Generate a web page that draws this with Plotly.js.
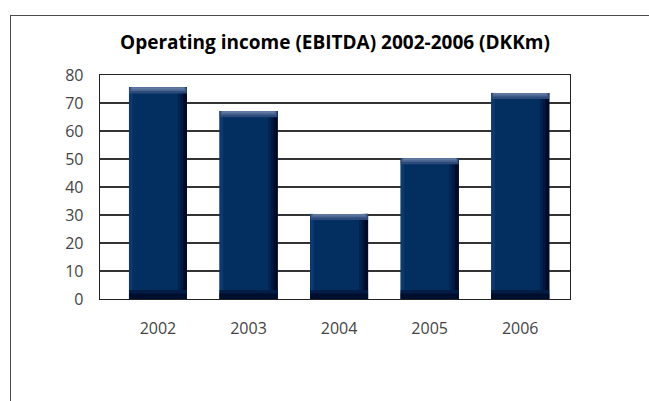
<!DOCTYPE html>
<html>
<head>
<meta charset="utf-8">
<script src="https://cdn.plot.ly/plotly-3.0.1.min.js"></script>
<style>
  html, body { margin: 0; padding: 0; background: #fff; }
  #wrap { position: relative; width: 649px; height: 401px; overflow: hidden; }
  #frame { position: absolute; left: 10px; top: 15px; width: 700px; height: 400px;
           border-top: 1.5px solid #4a4a4a; border-left: 1.5px solid #4a4a4a; }
  #chart { position: absolute; left: 0; top: 0; width: 649px; height: 401px; }
</style>
</head>
<body>
<div id="wrap">
  <div id="frame"></div>
  <div id="chart"></div>
</div>
<script>
const years = ['2002', '2003', '2004', '2005', '2006'];
const ebitda = [75.6, 67.1, 30.4, 50.3, 73.6];
const yTickValues = [0, 10, 20, 30, 40, 50, 60, 70, 80];
const chartTitle = 'Operating income (EBITDA) 2002-2006 (DKKm)';

const BW = 0.64;
const topBand = 2.2;
const bottomBand = 2.0;

const common = { x: years, type: 'bar', hoverinfo: 'skip', showlegend: false };

function bar(opts) { return Object.assign({}, common, opts); }

const traces = [
  bar({ y: ebitda, width: BW, marker: { color: '#022e60', line: { width: 0 } } }),
  // left lighter strip
  bar({ y: ebitda, width: 0.04, offset: -BW / 2, marker: { color: '#0a3a70', line: { width: 0 } } }),
  // right dark shading (stepped gradient)
  bar({ y: ebitda, width: 0.10, offset: BW / 2 - 0.10, marker: { color: '#01234f', line: { width: 0 } } }),
  bar({ y: ebitda, width: 0.07, offset: BW / 2 - 0.07, marker: { color: '#011840', line: { width: 0 } } }),
  bar({ y: ebitda, width: 0.04, offset: BW / 2 - 0.04, marker: { color: '#000a28', line: { width: 0 } } }),
  // bottom dark band (stepped gradient)
  bar({ y: ebitda.map(() => bottomBand * 1.6), base: ebitda.map(() => 0), width: BW,
        marker: { color: '#011d45', line: { width: 0 } } }),
  bar({ y: ebitda.map(() => bottomBand), base: ebitda.map(() => 0), width: BW,
        marker: { color: '#000e2e', line: { width: 0 } } }),
  // top highlight band (stepped gradient)
  bar({ y: ebitda.map(() => topBand), base: ebitda.map(v => v - topBand), width: BW,
        marker: { color: '#2c4a7a', line: { width: 0 } } }),
  bar({ y: ebitda.map(() => topBand * 0.6), base: ebitda.map(v => v - topBand * 0.6), width: BW - 0.03,
        marker: { color: '#4c6792', line: { width: 0 } } }),
  bar({ y: ebitda.map(() => topBand * 0.3), base: ebitda.map(v => v - topBand * 0.3), width: BW - 0.06,
        marker: { color: '#6079a1', line: { width: 0 } } })
];

const layout = {
  width: 649, height: 401,
  margin: { l: 100, r: 79, t: 75, b: 102 },
  paper_bgcolor: 'rgba(0,0,0,0)',
  plot_bgcolor: '#ffffff',
  barmode: 'overlay',
  font: { family: 'Open Sans, sans-serif', color: '#333333' },
  title: {
    text: '<b>' + chartTitle + '</b>',
    font: { family: 'Open Sans, sans-serif', size: 19, color: '#000000' },
    xref: 'paper', x: 0.5, xanchor: 'center',
    yref: 'container', y: 1 - 42 / 401, yanchor: 'middle'
  },
  xaxis: {
    type: 'category',
    range: [-0.64, 4.55],
    showline: true, mirror: true, linecolor: '#222222', linewidth: 1.3,
    showgrid: false, zeroline: false, ticks: '',
    tickfont: { size: 16, color: '#444444' },
    ticklabelstandoff: 14
  },
  yaxis: {
    range: [0, 80],
    tickvals: yTickValues,
    ticktext: yTickValues.map(String),
    showline: true, mirror: true, linecolor: '#222222', linewidth: 1.3,
    showgrid: true, gridcolor: '#333333', gridwidth: 1.2,
    zeroline: false, ticks: '',
    tickfont: { size: 16, color: '#444444' },
    ticklabelstandoff: 12
  }
};

Plotly.newPlot('chart', traces, layout, { displayModeBar: false, staticPlot: true });
</script>
</body>
</html>
